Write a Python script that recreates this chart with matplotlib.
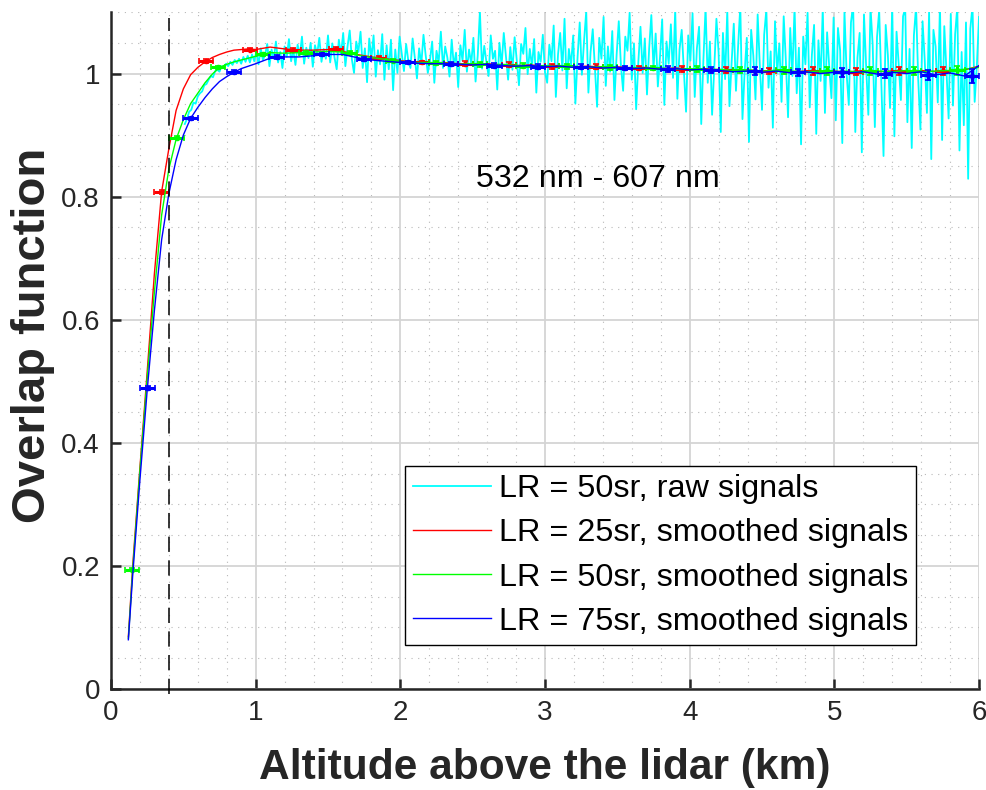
import numpy as np
import matplotlib
matplotlib.use("Agg")
import matplotlib.pyplot as plt
from matplotlib.ticker import MultipleLocator, FuncFormatter

plt.rcParams["font.family"] = ["Liberation Sans", "DejaVu Sans"]

# raw overlap (LR = 50 sr), 15 m bins starting at 0.51 km, values in 1e-3 units
raw_start_km = 0.51
raw_step_km = 0.015
raw_overlap_milli = [
    918, 926, 938, 941, 953, 951, 963, 968, 971, 981, 983, 990, 996, 994, 1004, 1006,
    1003, 1012, 1009, 1016, 1012, 1019, 1014, 1022, 1017, 1024, 1016, 1027, 1019, 1029,
    1018, 1031, 1020,
    1036, 1015, 1041, 1022, 1030, 1048, 1012, 1039, 1024, 1052, 1018, 1035, 1009, 1044,
    1027, 1056, 1020, 1038, 1014, 1047, 1029, 1060, 1016, 1042, 1025, 1050, 1011, 1046,
    1031, 1058, 1019, 1040, 1024, 1062,
    1018, 1049, 1026, 1007, 1055, 1031, 1066, 1012, 1044, 1070, 1023, 1001, 1052, 1035,
    1068, 1009, 1041, 986, 1057, 1024, 1062, 995, 1038, 1015, 1064, 990, 1046, 1007,
    1055, 973, 1039, 1001, 1060,
    1032, 1004, 1048, 1021, 1009, 1057, 1026, 992, 1041, 1015, 1063, 1030, 1001, 1022,
    1052, 985, 1037, 1018, 1068, 1009, 1044, 1026, 995, 1055, 1012, 1034, 978, 1046,
    1021, 1071, 1003, 1039, 1016, 1058, 987, 1029, 1101, 1008, 1045, 1019, 996, 1062,
    1024, 1037, 974, 1050, 1013, 1066, 1028, 990, 1043, 1006, 1059, 1021, 981, 1048,
    1032, 1074, 999, 1040, 1011, 1056, 969, 1035, 1019, 1063, 1002,
    985, 1047, 1020, 1078, 962, 1031, 1066, 1005, 1089, 976, 1040, 1014, 1062, 951,
    1026, 1083, 998, 1053, 1101, 969, 1035, 1072, 1010, 946, 1058, 1024, 1092, 980,
    1044, 1003, 1069, 957, 1030, 1085, 1012, 972, 1060, 1037, 1099, 990, 1049, 942,
    1018, 1076, 1001, 1057, 966, 1041, 1095, 1008, 1065, 979, 1027, 1088, 949, 1052,
    1016, 1080, 993, 1104, 959, 1039, 1071, 1004, 938, 1062, 1021,
    1098, 962, 1041, 1076, 918, 1023, 1107, 985, 1052, 933, 1009, 1089, 1034, 905,
    1066, 991, 1102, 947, 1018, 1081, 972, 1045, 1110, 926, 1003, 1058, 889, 1071,
    1029, 958, 1096, 1012, 941, 1063, 1104, 977, 1036, 912, 1085, 1001, 1049, 954,
    1093, 1020, 929, 1074, 996, 1108, 968, 1042, 885, 1060, 1015, 1099, 945, 1031,
    1079, 902, 1054, 988, 1106, 936, 1067, 1010, 960, 1091,
    924, 1074, 1038, 887, 1101, 999, 949, 1083, 1112, 905, 1026, 1066, 872, 1096,
    1011, 933, 1108, 1047, 913, 1059, 1102, 981, 866, 1079, 1030, 944, 1111, 898,
    1068, 1015, 957, 1093, 1106, 921, 1040, 879, 1062, 1109, 990, 909, 1085, 1021,
    936, 1100, 861, 1071, 1044, 953, 1112, 892, 1077, 1005, 927, 1097, 948, 1064,
    1108, 875, 1035, 916, 1083, 829, 1073, 1110, 954, 1012, 1092,
]

# smoothed retrievals
smooth_alt = [0.12, 0.15, 0.2, 0.25, 0.3, 0.35, 0.4, 0.45, 0.5, 0.55, 0.6, 0.65, 0.7,
              0.75, 0.8, 0.85, 0.9, 0.95, 1.0, 1.1, 1.2, 1.3, 1.4, 1.5, 1.6, 1.7, 1.8,
              1.9, 2.0, 2.1, 2.2, 2.3, 2.4, 2.5, 2.6, 2.7, 2.8, 2.9, 3.0, 3.1, 3.2, 3.3,
              3.4, 3.5, 3.6, 3.7, 3.8, 3.9, 4.0, 4.1, 4.2, 4.3, 4.4, 4.5, 4.6, 4.7, 4.8,
              4.9, 5.0, 5.1, 5.2, 5.3, 5.4, 5.5, 5.6, 5.7, 5.8, 5.9, 6.0]
lr25_smooth = [0.085, 0.20, 0.36, 0.515, 0.675, 0.808, 0.878, 0.940, 0.975, 0.998, 1.010,
               1.019, 1.026, 1.031, 1.035, 1.038, 1.039, 1.040, 1.039, 1.043, 1.040, 1.038,
               1.038, 1.039, 1.036, 1.031, 1.027, 1.024,
               1.021, 1.019, 1.017, 1.018, 1.016, 1.015, 1.016, 1.014, 1.013, 1.014, 1.012,
               1.013, 1.011, 1.012, 1.010, 1.011, 1.009, 1.010, 1.008, 1.009, 1.007, 1.008,
               1.006, 1.005, 1.006, 1.004, 1.005, 1.003, 1.004, 1.003, 1.004, 1.002, 1.005,
               1.003, 1.004, 1.002, 1.005, 1.003, 1.004, 1.006, 1.012]
lr50_smooth = [0.082, 0.194, 0.355, 0.505, 0.645, 0.770, 0.845, 0.893, 0.925, 0.951, 0.968,
               0.985, 0.999, 1.010, 1.015, 1.019, 1.022, 1.025, 1.028, 1.034, 1.033, 1.034,
               1.035, 1.036, 1.035, 1.030, 1.026, 1.023,
               1.020, 1.018, 1.018, 1.017, 1.015, 1.016, 1.014, 1.015, 1.013, 1.012, 1.013,
               1.011, 1.012, 1.010, 1.011, 1.009, 1.010, 1.008, 1.009, 1.007, 1.008, 1.006,
               1.007, 1.005, 1.006, 1.004, 1.005, 1.004, 1.003, 1.004, 1.003, 1.004, 1.002,
               1.004, 1.003, 1.005, 1.003, 1.004, 1.005, 1.007, 1.010]
lr75_smooth = [0.080, 0.185, 0.340, 0.485, 0.615, 0.730, 0.805, 0.860, 0.900, 0.927, 0.945,
               0.961, 0.975, 0.987, 0.995, 1.002, 1.008, 1.012, 1.016, 1.025, 1.027, 1.027,
               1.029, 1.031, 1.031, 1.026, 1.022, 1.020,
               1.018, 1.017, 1.016, 1.016, 1.015, 1.014, 1.015, 1.013, 1.012, 1.013, 1.011,
               1.012, 1.010, 1.011, 1.009, 1.010, 1.008, 1.009, 1.007, 1.008, 1.006, 1.007,
               1.005, 1.003, 1.004, 1.002, 1.004, 1.001, 1.003, 1.000, 1.002, 1.001, 1.003,
               0.999, 1.002, 1.000, 1.003, 0.998, 1.001, 0.996, 1.013]

# error bars on the smoothed curves
lr25_eb_alt = [0.35, 0.657, 0.96, 1.26, 1.555, 1.85, 2.15, 2.45, 2.75, 3.05, 3.35, 3.65,
               3.95, 4.25, 4.55, 4.85, 5.15, 5.45, 5.75]
lr25_eb_val = [0.808, 1.020, 1.039, 1.038, 1.040, 1.026, 1.018, 1.016, 1.014, 1.012, 1.011,
               1.009, 1.008, 1.006, 1.004, 1.004, 1.003, 1.004, 1.004]
lr25_eb_err = [0.003, 0.003, 0.003, 0.003, 0.003, 0.003, 0.003, 0.004, 0.004, 0.004, 0.004,
               0.004, 0.005, 0.005, 0.005, 0.006, 0.006, 0.006, 0.007]
lr50_eb_alt = [0.146, 0.454, 0.74, 1.05, 1.35, 1.65, 1.95, 2.25, 2.55, 2.85, 3.15, 3.45,
               3.75, 4.05, 4.35, 4.65, 4.95, 5.25, 5.55, 5.85]
lr50_eb_val = [0.194, 0.896, 1.010, 1.031, 1.034, 1.034, 1.021, 1.017, 1.015, 1.013, 1.012,
               1.010, 1.009, 1.007, 1.006, 1.005, 1.004, 1.004, 1.004, 1.005]
lr50_eb_err = [0.002, 0.003, 0.003, 0.003, 0.003, 0.003, 0.003, 0.003, 0.004, 0.004, 0.004,
               0.004, 0.004, 0.005, 0.005, 0.005, 0.006, 0.006, 0.006, 0.007]
lr75_eb_alt = [0.253, 0.55, 0.85, 1.145, 1.456, 1.75, 2.05, 2.35, 2.65, 2.95, 3.25, 3.55,
               3.85, 4.15, 4.45, 4.75, 5.05, 5.35, 5.65, 5.95]
lr75_eb_val = [0.489, 0.927, 1.002, 1.027, 1.031, 1.024, 1.018, 1.015, 1.013, 1.011, 1.011,
               1.009, 1.008, 1.006, 1.004, 1.002, 1.002, 1.000, 0.998, 0.996]
lr75_eb_err = [0.003, 0.003, 0.003, 0.003, 0.003, 0.003, 0.003, 0.003, 0.004, 0.004, 0.004,
               0.004, 0.005, 0.005, 0.006, 0.006, 0.007, 0.007, 0.008, 0.012]
alt_err_km = 0.05

full_overlap_alt = 0.4
label_text = "532 nm - 607 nm"

raw_overlap = np.asarray(raw_overlap_milli) / 1000.0
raw_alt = raw_start_km + raw_step_km * np.arange(len(raw_overlap))

fig = plt.figure(figsize=(9.87, 7.90), dpi=100)
ax = fig.add_axes([111 / 987, 1 - 689 / 790, 868 / 987, 677 / 790])

dark = "#262626"
ax.plot(raw_alt, raw_overlap, color="cyan", linewidth=1.3, zorder=2,
        label="LR = 50sr, raw signals")

series = [
    (lr25_smooth, lr25_eb_alt, lr25_eb_val, lr25_eb_err, "red", "LR = 25sr, smoothed signals"),
    (lr50_smooth, lr50_eb_alt, lr50_eb_val, lr50_eb_err, "lime", "LR = 50sr, smoothed signals"),
    (lr75_smooth, lr75_eb_alt, lr75_eb_val, lr75_eb_err, "blue", "LR = 75sr, smoothed signals"),
]
for k, (vals, eb_x, eb_y, eb_e, color, label) in enumerate(series):
    ax.plot(smooth_alt, vals, color=color, linewidth=1.0, zorder=3 + k, label=label)
    ax.errorbar(eb_x, eb_y, xerr=alt_err_km, yerr=eb_e, fmt=".", color=color,
                markersize=6, elinewidth=2.2, capsize=2, capthick=1.2, zorder=3 + k)

ax.plot([full_overlap_alt, full_overlap_alt], [-0.008, 1.09], color="black",
        linewidth=1.1, linestyle=(0, (10, 5.5)), clip_on=False, zorder=6)

ax.text(2.52, 0.829, label_text, fontsize=23.2, va="center", ha="left", color="black")

ax.set_xlim(0, 6)
ax.set_ylim(0, 1.1)
ax.xaxis.set_major_locator(MultipleLocator(1))
ax.xaxis.set_minor_locator(MultipleLocator(0.2))
ax.yaxis.set_major_locator(MultipleLocator(0.2))
ax.yaxis.set_minor_locator(MultipleLocator(0.05))
ax.xaxis.set_major_formatter(FuncFormatter(lambda v, p: f"{v:g}"))
ax.yaxis.set_major_formatter(FuncFormatter(lambda v, p: f"{v:g}"))

ax.grid(which="major", color="#d4d4d4", linewidth=1.3, linestyle="-", zorder=0)
ax.grid(which="minor", color="#b8b8b8", linewidth=0.8, linestyle=(0, (1, 5)), zorder=0)
ax.set_axisbelow(True)

for side in ["top", "right"]:
    ax.spines[side].set_visible(False)
for side in ["left", "bottom"]:
    ax.spines[side].set_color(dark)
    ax.spines[side].set_linewidth(1.8)
ax.tick_params(which="major", direction="in", length=7, width=1.8, color=dark,
               labelsize=20, labelcolor=dark, pad=8)
ax.tick_params(which="minor", length=0)

ax.set_xlabel("Altitude above the lidar (km)", fontsize=30.6, fontweight="bold",
              color=dark, labelpad=16)
ax.set_ylabel("Overlap function", fontsize=34, fontweight="bold", color=dark)
ax.yaxis.set_label_coords(-0.064, 0.523)

leg = ax.legend(loc="upper left", bbox_to_anchor=(0.3387, 0.3294), borderaxespad=0,
                fontsize=23.3, frameon=True, fancybox=False, edgecolor="black",
                framealpha=1, handlelength=2.4, handletextpad=0.25, labelspacing=0.44,
                borderpad=0.25)
leg.get_frame().set_linewidth(1.0)

fig.savefig("out.png", dpi=100)
